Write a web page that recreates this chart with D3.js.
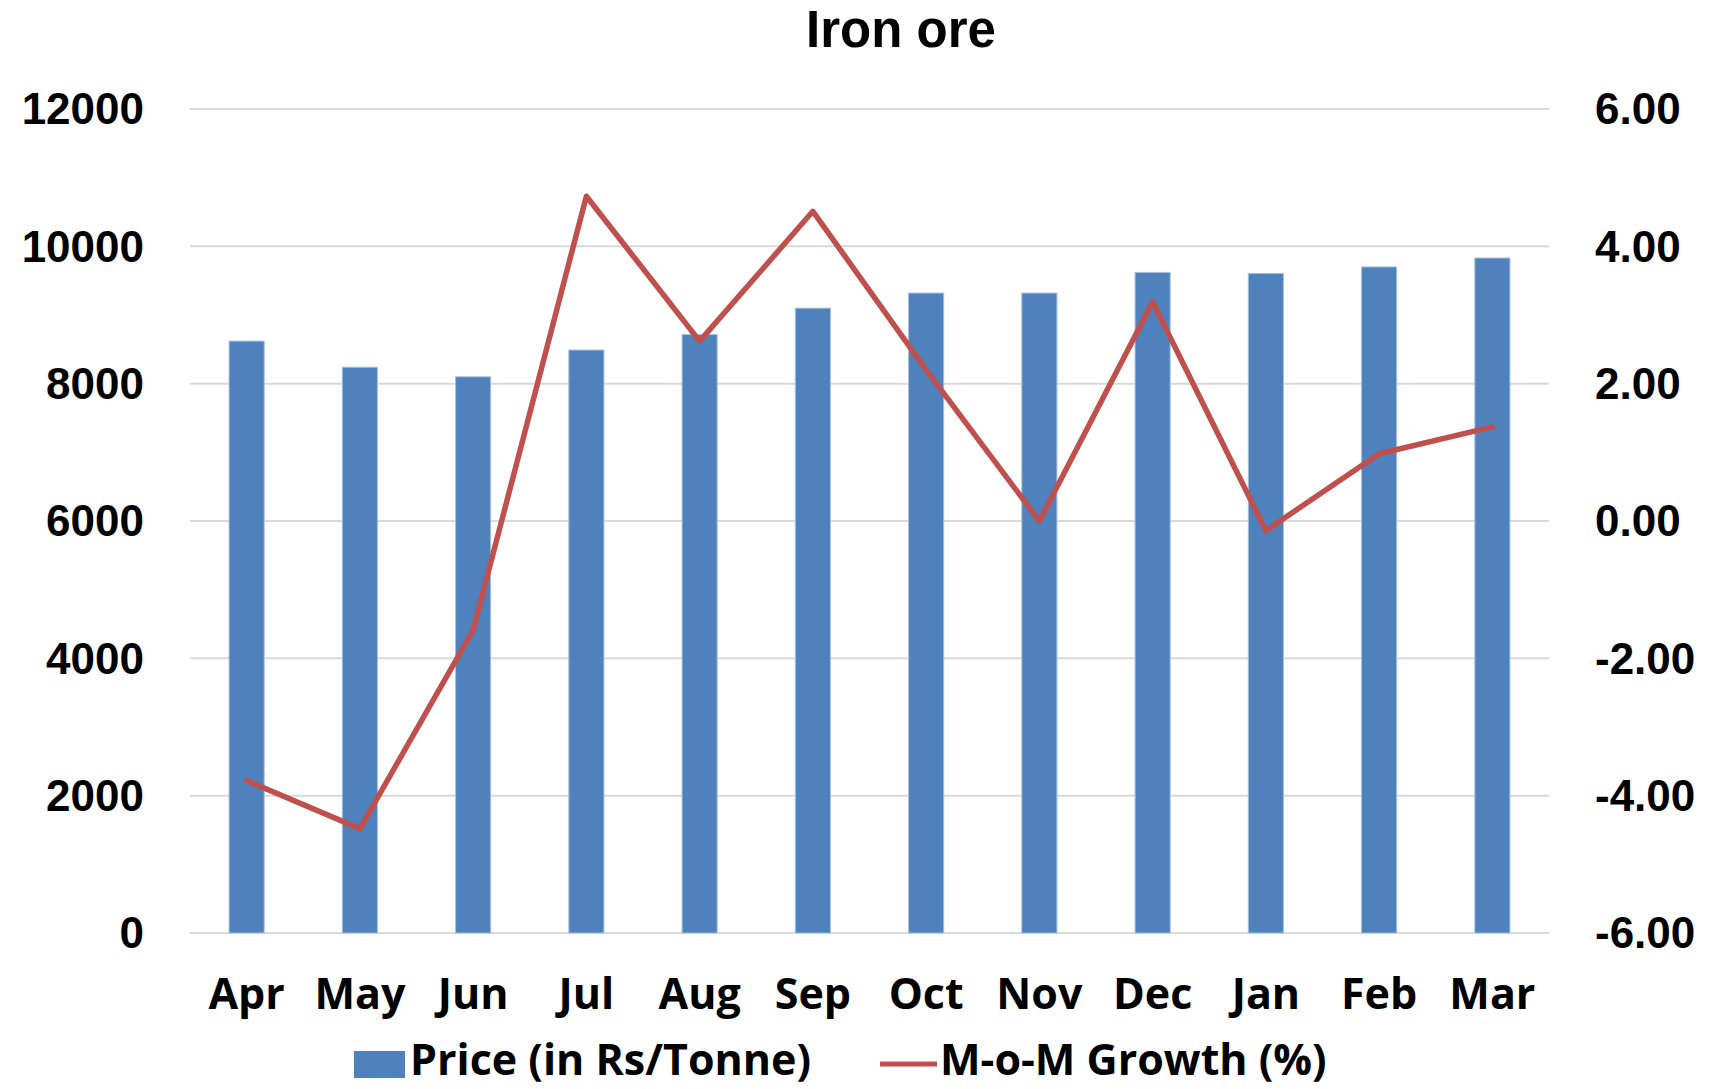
<!DOCTYPE html>
<meta charset="utf-8">
<title>Iron ore</title>
<style>
    body {
        margin: 0;
        background: #fff;
    }

    .grid line {
        stroke: #d9d9d9;
        stroke-width: 2px;
    }

    .tick-num {
        font-family: "Liberation Sans", Arial, sans-serif;
        font-weight: bold;
        font-size: 44px;
        fill: #000;
    }

    .cat {
        font-family: "Open Sans", sans-serif;
        font-weight: 700;
        font-size: 43px;
        fill: #000;
    }

    .legend text {
        font-family: "Open Sans", sans-serif;
        font-weight: 700;
        font-size: 43px;
        fill: #000;
    }

    .bar {
        fill: #4f81bd;
        stroke: #a7c0de;
        stroke-width: 1px;
    }

    .growth {
        fill: none;
        stroke: #c0504d;
        stroke-width: 5.5px;
        stroke-linejoin: round;
        stroke-linecap: round;
    }
</style>

<body>
    <svg id="chart"></svg>
</body>

<script src="https://d3js.org/d3.v7.min.js"></script>
<script>
    // months of the financial year
    var months = ["Apr", "May", "Jun", "Jul", "Aug", "Sep", "Oct", "Nov", "Dec", "Jan", "Feb", "Mar"];
    // price in Rs/Tonne
    var price = [8620, 8240, 8100, 8490, 8715, 9100, 9320, 9320, 9620, 9605, 9700, 9830];
    // month on month growth in %
    var growth = [-3.78, -4.48, -1.59, 4.73, 2.62, 4.51, 2.2, 0.0, 3.19, -0.14, 0.98, 1.37];

    var leftTicks = [0, 2000, 4000, 6000, 8000, 10000, 12000];
    var rightTicks = [-6, -4, -2, 0, 2, 4, 6];

    var width = 1709,
        height = 1089;

    var plot = {
        left: 190,
        right: 1549,
        top: 109,
        bottom: 933
    };

    var svg = d3.select("#chart")
        .attr("width", width)
        .attr("height", height);

    var x = d3.scaleBand()
        .domain(months)
        .range([plot.left, plot.right]);

    var yLeft = d3.scaleLinear()
        .domain([0, 12000])
        .range([plot.bottom, plot.top]);

    var yRight = d3.scaleLinear()
        .domain([-6, 6])
        .range([plot.bottom, plot.top]);

    // gridlines
    svg.append("g")
        .attr("class", "grid")
        .selectAll("line")
        .data(leftTicks)
        .join("line")
        .attr("x1", plot.left)
        .attr("x2", plot.right)
        .attr("y1", d => yLeft(d))
        .attr("y2", d => yLeft(d));

    // left axis labels
    svg.append("g")
        .selectAll("text")
        .data(leftTicks)
        .join("text")
        .attr("class", "tick-num")
        .attr("x", 144)
        .attr("y", d => yLeft(d))
        .attr("dy", "0.35em")
        .attr("text-anchor", "end")
        .text(d => d);

    // right axis labels (plain hyphen, like the original)
    var fmt = d3.format(".2f");
    svg.append("g")
        .selectAll("text")
        .data(rightTicks)
        .join("text")
        .attr("class", "tick-num")
        .attr("x", 1595)
        .attr("y", d => yRight(d))
        .attr("dy", "0.35em")
        .attr("text-anchor", "start")
        .text(d => fmt(d).replace("\u2212", "-"));

    // bars
    var barW = x.bandwidth() * 0.31;
    svg.append("g")
        .selectAll("rect")
        .data(months)
        .join("rect")
        .attr("class", "bar")
        .attr("x", d => x(d) + x.bandwidth() / 2 - barW / 2)
        .attr("y", (d, i) => yLeft(price[i]))
        .attr("width", barW)
        .attr("height", (d, i) => yLeft(0) - yLeft(price[i]));

    // growth line
    var line = d3.line()
        .x((d, i) => x(months[i]) + x.bandwidth() / 2)
        .y(d => yRight(d));

    svg.append("path")
        .datum(growth)
        .attr("class", "growth")
        .attr("d", line);

    // category labels
    svg.append("g")
        .selectAll("text")
        .data(months)
        .join("text")
        .attr("class", "cat")
        .attr("x", d => x(d) + x.bandwidth() / 2)
        .attr("y", 1009)
        .attr("text-anchor", "middle")
        .text(d => d);

    // title
    svg.append("text")
        .attr("x", 901)
        .attr("y", 47)
        .attr("text-anchor", "middle")
        .style("font-family", "'Liberation Sans', Arial, sans-serif")
        .style("font-weight", "bold")
        .style("font-size", "51px")
        .text("Iron ore");

    // legend
    var legend = svg.append("g").attr("class", "legend");
    legend.append("rect")
        .attr("x", 354)
        .attr("y", 1051)
        .attr("width", 51)
        .attr("height", 27)
        .attr("fill", "#4f81bd");
    legend.append("text")
        .attr("x", 410)
        .attr("y", 1075)
        .text("Price (in Rs/Tonne)");
    legend.append("line")
        .attr("x1", 880)
        .attr("x2", 937)
        .attr("y1", 1064)
        .attr("y2", 1064)
        .attr("stroke", "#c0504d")
        .attr("stroke-width", 5);
    legend.append("text")
        .attr("x", 940)
        .attr("y", 1075)
        .text("M-o-M Growth (%)");
</script>
